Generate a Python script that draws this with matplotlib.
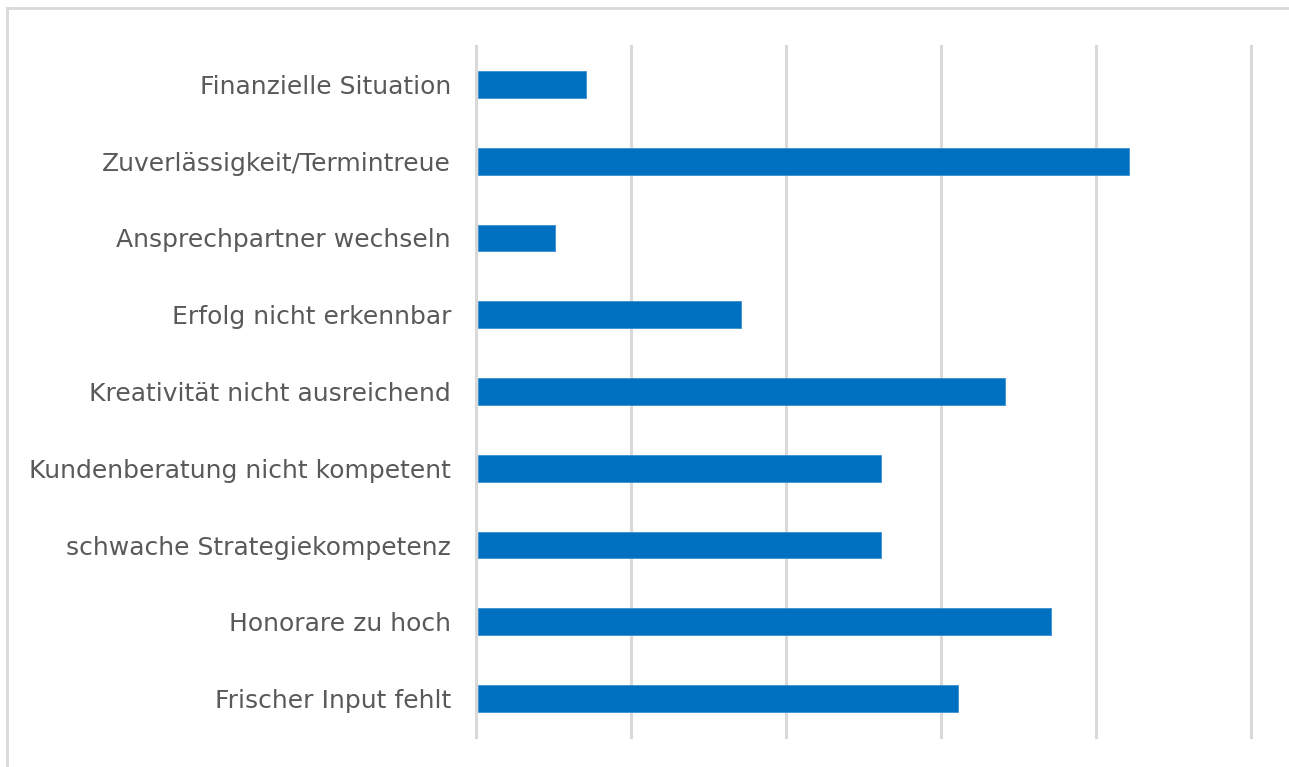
import matplotlib.pyplot as plt
from matplotlib.lines import Line2D

# > Data (top to bottom as in the chart)
labels = ['Finanzielle Situation', 'Zuverlässigkeit/Termintreue', 'Ansprechpartner wechseln',
          'Erfolg nicht erkennbar', 'Kreativität nicht ausreichend', 'Kundenberatung nicht kompetent',
          'schwache Strategiekompetenz', 'Honorare zu hoch', 'Frischer Input fehlt']
values = [3.5, 21, 2.5, 8.5, 17, 13, 13, 18.5, 15.5]

plt.rcParams['font.family'] = ['DejaVu Sans']

fig = plt.figure(figsize=(12.89, 7.67), dpi=100)
ax = fig.add_axes([476 / 1289, 30 / 767, 775 / 1289, 691 / 767])

ypos = list(range(len(labels)))
ax.barh(ypos, values, left=0.05, height=0.35, color='#0070c0', edgecolor='#3a8fd0', linewidth=0.6, zorder=3)

ax.set_xlim(0, 25)
ax.set_ylim(len(labels) - 0.5, -0.5)
ax.set_xticks([0, 5, 10, 15, 20, 25])
ax.set_xticklabels([])
ax.set_yticks(ypos)
ax.set_yticklabels(labels, fontsize=18, color='#595959')
ax.tick_params(axis='y', length=0, pad=18)
ax.tick_params(axis='x', length=0)
ax.grid(axis='x', color='#d9d9d9', linewidth=2.2, zorder=0)
for gl in ax.get_xgridlines():
    gl.set_clip_on(False)
for s in ax.spines.values():
    s.set_visible(False)

# > Outer frame (top and left edges visible)
fig.add_artist(Line2D([7 / 1289, 1.0], [1 - 8 / 767, 1 - 8 / 767], color='#d9d9d9', linewidth=2, transform=fig.transFigure))
fig.add_artist(Line2D([7 / 1289, 7 / 1289], [0, 1 - 8 / 767], color='#d9d9d9', linewidth=2, transform=fig.transFigure))

plt.savefig('out.png', dpi=100)
